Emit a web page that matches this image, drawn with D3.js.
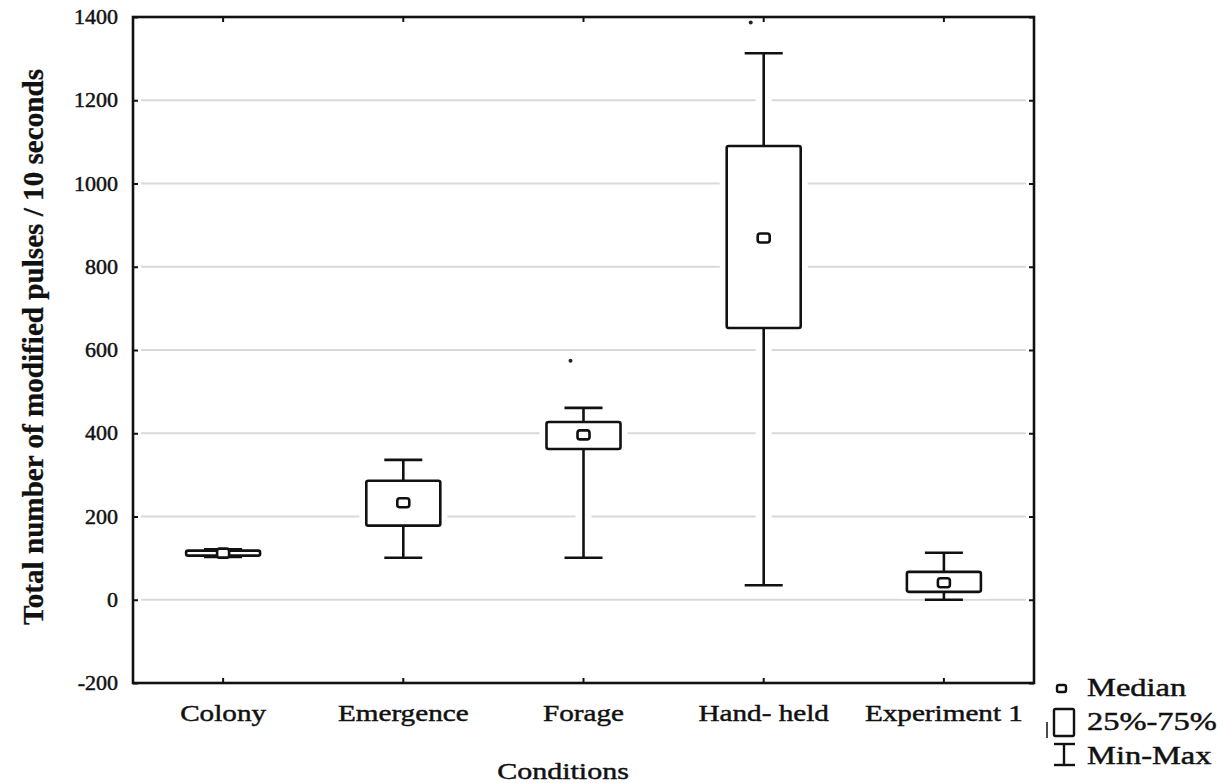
<!DOCTYPE html>
<html>
<head>
<meta charset="utf-8">
<script src="https://cdn.jsdelivr.net/npm/d3@7"></script>
<style>
  html, body { margin: 0; padding: 0; background: #fff; }
  svg { display: block; }
  text { font-family: "Liberation Serif", "Times New Roman", serif; fill: #111; stroke: #111; stroke-width: 0.45px; }
</style>
</head>
<body>
<svg id="chart" width="1224" height="783"></svg>
<script>
// ---- data ----
const categories = ["Colony", "Emergence", "Forage", "Hand- held", "Experiment 1"];
const minValues    = [103, 101, 101, 35, 0];
const q1Values     = [106, 178, 362, 653, 19];
const medianValues = [112, 233, 396, 869, 41];
const q3Values     = [118, 286, 427, 1090, 67];
const maxValues    = [121, 336, 461, 1313, 113];
const yTickValues  = [-200, 0, 200, 400, 600, 800, 1000, 1200, 1400];
const strayCategories = ["Forage", "Hand- held"];
const strayValues     = [574, 1387];
const legendLabels = ["Median", "25%-75%", "Min-Max"];
const yTitle = "Total number of modified pulses / 10 seconds";
const xTitle = "Conditions";

// ---- layout ----
const plotLeft = 133, plotRight = 1034, plotTop = 17, plotBottom = 683;
const svg = d3.select("#chart");

const x = d3.scaleBand().domain(categories).range([plotLeft, plotRight]);
const y = d3.scaleLinear().domain([-200, 1400]).range([plotBottom, plotTop]);

const boxW = 74, capW = 38, halo = 7;

function stretchedText(g, str, tx, ty, size, sx, anchor, weight) {
  return g.append("text")
    .attr("transform", `translate(${tx},${ty}) scale(${sx},1)`)
    .attr("text-anchor", anchor)
    .attr("font-size", size)
    .attr("font-weight", weight || "normal")
    .text(str);
}

// gridlines
svg.append("g").selectAll("line").data(yTickValues.filter(v => v > -200 && v < 1400)).join("line")
  .attr("x1", plotLeft + 8).attr("x2", plotRight - 8)
  .attr("y1", d => y(d)).attr("y2", d => y(d))
  .attr("stroke", "#d9d9d9").attr("stroke-width", 2);

// boxes
const data = categories.map((c, i) => ({
  c, min: minValues[i], q1: q1Values[i], med: medianValues[i], q3: q3Values[i], max: maxValues[i]
}));
const cx = d => x(d.c) + x.bandwidth() / 2;

const haloG = svg.append("g");
data.forEach(d => {
  const c = cx(d);
  haloG.append("line").attr("x1", c).attr("x2", c).attr("y1", y(d.max)).attr("y2", y(d.min))
    .attr("stroke", "#fff").attr("stroke-width", halo * 2 + 2);
  haloG.append("rect").attr("x", c - boxW / 2 - halo).attr("width", boxW + 2 * halo)
    .attr("y", y(d.q3) - halo).attr("height", y(d.q1) - y(d.q3) + 2 * halo).attr("fill", "#fff");
});

const boxG = svg.append("g").attr("stroke", "#111").attr("stroke-width", 2.6).attr("fill", "none");
data.forEach(d => {
  const c = cx(d);
  boxG.append("line").attr("x1", c).attr("x2", c).attr("y1", y(d.max)).attr("y2", y(d.q3));
  boxG.append("line").attr("x1", c).attr("x2", c).attr("y1", y(d.q1)).attr("y2", y(d.min));
  boxG.append("line").attr("x1", c - capW / 2).attr("x2", c + capW / 2).attr("y1", y(d.max)).attr("y2", y(d.max));
  boxG.append("line").attr("x1", c - capW / 2).attr("x2", c + capW / 2).attr("y1", y(d.min)).attr("y2", y(d.min));
  boxG.append("rect").attr("x", c - boxW / 2).attr("width", boxW)
    .attr("y", y(d.q3)).attr("height", Math.max(1, y(d.q1) - y(d.q3)))
    .attr("rx", 2).attr("fill", "#fff");
  boxG.append("rect").attr("x", c - 6).attr("width", 12).attr("y", y(d.med) - 4.5).attr("height", 9)
    .attr("rx", 2.5).attr("fill", "#fff");
});

// stray points
svg.append("g").selectAll("circle").data(strayCategories.map((c, i) => ({ c, v: strayValues[i] }))).join("circle")
  .attr("cx", d => x(d.c) + x.bandwidth() / 2 - 13).attr("cy", d => y(d.v)).attr("r", 2)
  .attr("fill", "#223");

// frame
svg.append("rect").attr("x", plotLeft).attr("y", plotTop).attr("width", plotRight - plotLeft).attr("height", plotBottom - plotTop)
  .attr("fill", "none").attr("stroke", "#111").attr("stroke-width", 2.6);

// axes with inward ticks
const yAxisL = svg.append("g").attr("transform", `translate(${plotLeft},0)`)
  .call(d3.axisRight(y).tickValues(yTickValues).tickSize(5).tickFormat(""));
const yAxisR = svg.append("g").attr("transform", `translate(${plotRight},0)`)
  .call(d3.axisLeft(y).tickValues(yTickValues).tickSize(5).tickFormat(""));
const xAxisB = svg.append("g").attr("transform", `translate(0,${plotBottom})`)
  .call(d3.axisTop(x).tickSize(5).tickFormat(""));
const xAxisT = svg.append("g").attr("transform", `translate(0,${plotTop})`)
  .call(d3.axisBottom(x).tickSize(5).tickFormat(""));
[yAxisL, yAxisR, xAxisB, xAxisT].forEach(a => {
  a.select(".domain").remove();
  a.selectAll(".tick line").attr("stroke", "#111").attr("stroke-width", 2);
});

// tick labels
const labG = svg.append("g");
yTickValues.forEach(v => {
  stretchedText(labG, String(v), 118, y(v) + 7, 20, 1.1, "end", "normal");
});
categories.forEach(c => {
  stretchedText(labG, c, x(c) + x.bandwidth() / 2, 721, 23, 1.27, "middle", "normal");
});
stretchedText(labG, xTitle, 563, 779, 24, 1.25, "middle", "normal");

svg.append("text")
  .attr("transform", `translate(43,347) rotate(-90)`)
  .attr("text-anchor", "middle")
  .attr("font-size", 30).attr("font-weight", "bold")
  .style("stroke-width", "0.3px")
  .attr("textLength", 556).attr("lengthAdjust", "spacingAndGlyphs")
  .text(yTitle);

// legend
const lg = svg.append("g");
const lgs = lg.append("g").attr("stroke", "#111").attr("stroke-width", 2.4).attr("fill", "none");
lgs.append("rect").attr("x", 1057).attr("y", 685).attr("width", 9).attr("height", 7).attr("rx", 2);
lgs.append("rect").attr("x", 1054).attr("y", 709).attr("width", 20).attr("height", 27).attr("rx", 1.5);
lgs.append("line").attr("x1", 1047).attr("x2", 1047).attr("y1", 722).attr("y2", 738).attr("stroke-width", 1.5);
lgs.append("line").attr("x1", 1064).attr("x2", 1064).attr("y1", 744).attr("y2", 765);
lgs.append("line").attr("x1", 1054).attr("x2", 1075).attr("y1", 744).attr("y2", 744);
lgs.append("line").attr("x1", 1054).attr("x2", 1075).attr("y1", 765).attr("y2", 765);
const legendY = [696, 730, 764];
legendLabels.forEach((t, i) => stretchedText(lg, t, 1087, legendY[i], 25, 1.3, "start", "normal"));
</script>
</body>
</html>
